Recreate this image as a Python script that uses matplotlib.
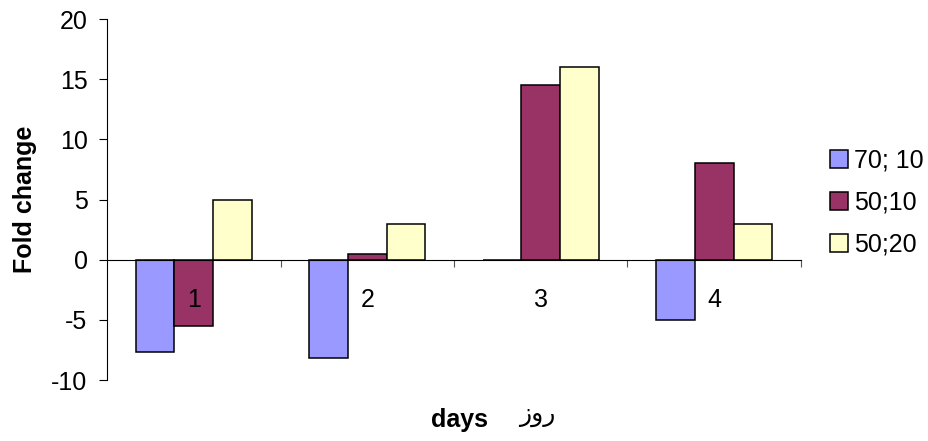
import matplotlib.pyplot as plt
import numpy as np

plt.rcParams['font.family'] = ['Liberation Sans', 'DejaVu Sans']
plt.rcParams['axes.unicode_minus'] = False

days = ['1', '2', '3', '4']
series_names = ['70; 10', '50;10', '50;20']
s_70_10 = [-7.7, -8.2, 0.0, -5.0]
s_50_10 = [-5.5, 0.5, 14.5, 8.0]
s_50_20 = [5.0, 3.0, 16.0, 3.0]
colors = ['#9999FF', '#993366', '#FFFFCC']

fs = 18

fig = plt.figure(figsize=(9.29, 4.41), dpi=100)
ax = fig.add_axes([0.1152, 0.1383, 0.7470, 0.8186])

x = np.arange(len(days))
w = 1 / 4.5  # Excel style: 150% gap width
for k, (vals, name, c) in enumerate(zip([s_70_10, s_50_10, s_50_20], series_names, colors)):
    ax.bar(x + (k - 1) * w, vals, w, color=c, edgecolor='black', linewidth=1.1,
           label=name, zorder=3)

ax.set_xlim(-0.5, len(days) - 0.5)
ax.set_ylim(-10, 20)
ax.set_yticks(range(-10, 21, 5))
ax.tick_params(axis='y', direction='out', length=6, width=0.8, pad=8, labelsize=fs)

# category axis sits on y = 0, ticks between groups
for s in ['top', 'right']:
    ax.spines[s].set_visible(False)
ax.spines['bottom'].set_position(('data', 0))
ax.spines['bottom'].set_linewidth(0.8)
ax.spines['bottom'].set_zorder(4)
ax.spines['left'].set_linewidth(0.8)
ax.set_xticks(np.arange(0.5, len(days), 1))
ax.set_xticklabels([])
ax.tick_params(axis='x', which='major', direction='out', length=5, width=0.8, color='#555555')

# day labels drawn over the bars
for xi, d in zip(x, days):
    ax.annotate(d, (xi, 0), xytext=(0, -29), textcoords='offset points',
                ha='center', va='center', fontsize=fs, zorder=5)

ax.set_ylabel('Fold change', fontsize=fs, fontweight='bold', labelpad=10)

fig.text(0.495, 0.032, 'days', fontsize=fs, fontweight='bold', ha='center', va='baseline')
# matplotlib has no bidi support, so the glyphs are given in visual order
fig.text(0.578, 0.045, 'روز'[::-1], fontsize=fs, ha='center', va='baseline',
         family=['DejaVu Sans'])

fig.legend(loc='center left', bbox_to_anchor=(0.883, 0.54), frameon=False,
           fontsize=fs, handlelength=0.7, handleheight=0.7, handletextpad=0.25,
           labelspacing=0.72, borderaxespad=0)

fig.savefig('out.png', dpi=100)
